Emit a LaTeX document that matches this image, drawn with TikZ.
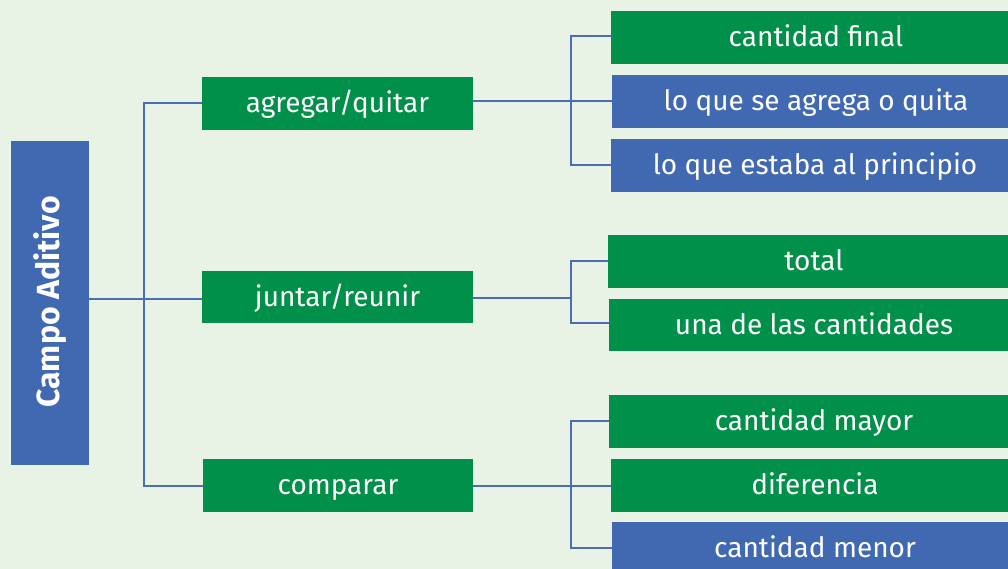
\documentclass[tikz,border=0pt]{standalone}
\usepackage{fontspec}
\setmainfont{Fira Sans}
\definecolor{bg}{HTML}{E8F3E6}
\definecolor{gr}{HTML}{00904A}
\definecolor{bl}{HTML}{4169B2}
\definecolor{ln}{HTML}{4A6EB5}
\begin{document}
\begin{tikzpicture}[x=1pt,y=-1pt,
  box/.style={draw=none,text=white,inner sep=0pt,anchor=base,font=\fontsize{28}{30}\selectfont},
  conn/.style={draw=ln,line width=1.6pt}]
\fill[bg] (0,0) rectangle (1008,569);
\useasboundingbox (0,0) rectangle (1008,569);
% root
\fill[bl] (11,141) rectangle (89,465);
\node[box,anchor=center,rotate=90,font=\fontsize{32}{34}\selectfont\bfseries] (root) at (50,302) {Campo Aditivo};
\coordinate (rootE) at (89,299);
% middle
\fill[gr] (202,77) rectangle (473,130);
\node[box] (m1) at (337.5,112.5) {agregar/quitar};
\fill[gr] (202,271) rectangle (473,323);
\node[box] (m2) at (337.5,306.5) {juntar/reunir};
\fill[gr] (203,459) rectangle (473,512);
\node[box] (m3) at (338,494.5) {comparar};
% right group 1
\fill[gr] (611,11) rectangle (1008,64);
\node[box] (r1) at (816,46.5) {cantidad final};
\fill[bl] (612,75) rectangle (1008,128);
\node[box] (r2) at (816,110.5) {lo que se agrega o quita};
\fill[bl] (611,139) rectangle (1008,192);
\node[box] (r3) at (815,174.5) {lo que estaba al principio};
% right group 2
\fill[gr] (608,235) rectangle (1008,288);
\node[box] (r4) at (814,270.5) {total};
\fill[gr] (609,299) rectangle (1008,351);
\node[box] (r5) at (814,334.5) {una de las cantidades};
% right group 3
\fill[gr] (609,395) rectangle (1008,448);
\node[box] (r6) at (814,430.5) {cantidad mayor};
\fill[gr] (611,459) rectangle (1008,512);
\node[box] (r7) at (815,494.5) {diferencia};
\fill[bl] (612,522) rectangle (1008,575);
\node[box] (r8) at (815,557.5) {cantidad menor};
% coordinates for connectors
\coordinate (tr1) at (144,103);
\coordinate (tr3) at (144,486);
\coordinate (m1W) at (202,103);
\coordinate (m2W) at (202,299);
\coordinate (m3W) at (203,486);
\coordinate (m1E) at (473,101);
\coordinate (m2E) at (473,298);
\coordinate (m3E) at (473,486);
\coordinate (r1W) at (611,36);
\coordinate (r2W) at (612,101);
\coordinate (r3W) at (611,165);
\coordinate (r4W) at (608,261);
\coordinate (r5W) at (609,323);
\coordinate (r6W) at (609,421);
\coordinate (r7W) at (611,486);
\coordinate (r8W) at (612,548);
% connectors
\draw[conn] (rootE) -- (m2W);
\draw[conn] (m1W) -- (tr1) -- (tr3) -- (m3W);
\draw[conn] (m1E) -- (r2W);
\draw[conn] (r1W) -| (571,101) |- (r3W);
\draw[conn] (m2E) -- (571,298);
\draw[conn] (r4W) -| (571,298) |- (r5W);
\draw[conn] (m3E) -- (r7W);
\draw[conn] (r6W) -| (571,486) |- (r8W);
\end{tikzpicture}
\end{document}
